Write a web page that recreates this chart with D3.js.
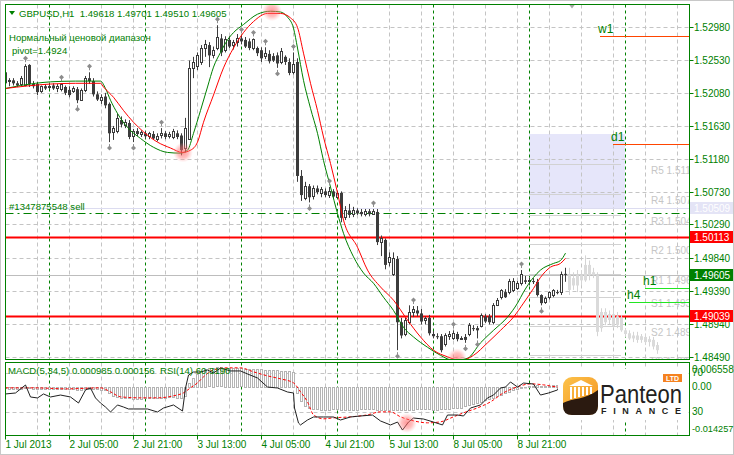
<!DOCTYPE html>
<html><head><meta charset="utf-8">
<script src="https://cdn.jsdelivr.net/npm/d3@7"></script>
<style>
body{margin:0;background:#fff}
svg{display:block}
text{font-family:"Liberation Sans",Arial,sans-serif}
</style></head>
<body><svg width="734" height="455"></svg>
<script>
// ---------- DATA ----------
const symbolText = "GBPUSD,H1  1.49618 1.49701 1.49510 1.49605";
const priceTicks = [1.52980,1.52530,1.52080,1.51630,1.51180,1.50730,1.50290,1.49840,1.49390,1.48940,1.48490];
const timeLabels = ["1 Jul 2013","2 Jul 05:00","2 Jul 21:00","3 Jul 13:00","4 Jul 05:00","4 Jul 21:00","5 Jul 13:00","8 Jul 05:00","8 Jul 21:00"];
const timeIdx = [0,16,32,48,64,80,96,112,128];
const daySepIdx = [11,35,59,83,107,131,155];

const opens = [1.5236,1.5223,1.5225,1.5221,1.5220,1.5218,1.5246,1.5220,1.5220,1.5210,
1.5217,1.5216,1.5218,1.5214,1.5213,1.5216,1.5212,1.5210,1.5213,1.5199,
1.5212,1.5228,1.5224,1.5206,1.5199,1.5203,1.5193,1.5155,1.5156,1.5171,
1.5165,1.5167,1.5149,1.5156,1.5152,1.5153,1.5149,1.5152,1.5146,1.5150,
1.5153,1.5149,1.5148,1.5153,1.5150,1.5133,1.5146,1.5242,1.5244,1.5250,
1.5269,1.5273,1.5259,1.5269,1.5282,1.5266,1.5280,1.5273,1.5276,1.5282,
1.5280,1.5278,1.5269,1.5269,1.5266,1.5258,1.5261,1.5258,1.5259,1.5250,
1.5257,1.5250,1.5236,1.5250,1.5095,1.5065,1.5081,1.5067,1.5078,1.5072,
1.5074,1.5069,1.5074,1.5067,1.5072,1.5038,1.5048,1.5043,1.5048,1.5046,
1.5043,1.5047,1.5043,1.5046,1.5005,1.5008,1.4978,1.4961,1.4982,1.4896,
1.4880,1.4896,1.4910,1.4912,1.4908,1.4899,1.4902,1.4880,1.4877,1.4877,
1.4866,1.4877,1.4874,1.4880,1.4874,1.4876,1.4880,1.4888,1.4888,1.4891,
1.4904,1.4904,1.4896,1.4919,1.4930,1.4937,1.4937,1.4940,1.4942,1.4949,
1.4953,1.4951,1.4952,1.4951,1.4933,1.4923,1.4930,1.4933,1.4937,1.4936,
1.49618];
const highs = [1.5239,1.5228,1.5228,1.5224,1.5231,1.5247,1.5247,1.5224,1.5223,1.5218,
1.5220,1.5221,1.5221,1.5220,1.5221,1.5218,1.5217,1.5217,1.5216,1.5214,
1.5231,1.5236,1.5228,1.5210,1.5206,1.5208,1.5195,1.5163,1.5180,1.5176,
1.5172,1.5171,1.5159,1.5160,1.5157,1.5156,1.5155,1.5156,1.5153,1.5160,
1.5156,1.5155,1.5159,1.5157,1.5153,1.5174,1.5252,1.5257,1.5263,1.5273,
1.5280,1.5277,1.5271,1.5300,1.5288,1.5285,1.5285,1.5280,1.5288,1.5286,
1.5284,1.5282,1.5282,1.5271,1.5270,1.5270,1.5266,1.5262,1.5263,1.5269,
1.5259,1.5255,1.5263,1.5255,1.5103,1.5087,1.5084,1.5082,1.5082,1.5080,
1.5078,1.5080,1.5077,1.5074,1.5074,1.5054,1.5057,1.5053,1.5051,1.5050,
1.5050,1.5050,1.5050,1.5050,1.5014,1.5010,1.4991,1.4991,1.4986,1.4902,
1.4902,1.4919,1.4918,1.4918,1.4914,1.4904,1.4906,1.4884,1.4881,1.4880,
1.4881,1.4884,1.4885,1.4883,1.4877,1.4880,1.4895,1.4892,1.4891,1.4908,
1.4907,1.4907,1.4922,1.4929,1.4941,1.4941,1.4955,1.4956,1.4952,1.4967,
1.4959,1.4957,1.4956,1.4955,1.4934,1.4931,1.4938,1.4941,1.4940,1.4965,
1.49701];
const lows = [1.5218,1.5217,1.5218,1.5216,1.5217,1.5217,1.5216,1.5214,1.5205,1.5208,
1.5212,1.5213,1.5212,1.5209,1.5210,1.5205,1.5202,1.5208,1.5194,1.5197,
1.5209,1.5220,1.5203,1.5197,1.5193,1.5187,1.5141,1.5144,1.5153,1.5161,
1.5160,1.5145,1.5141,1.5149,1.5148,1.5146,1.5145,1.5144,1.5142,1.5146,
1.5145,1.5146,1.5145,1.5145,1.5123,1.5127,1.5144,1.5228,1.5239,1.5246,
1.5257,1.5243,1.5255,1.5266,1.5258,1.5263,1.5269,1.5267,1.5271,1.5274,
1.5269,1.5266,1.5266,1.5258,1.5250,1.5254,1.5248,1.5250,1.5242,1.5247,
1.5246,1.5232,1.5233,1.5087,1.5061,1.5062,1.5059,1.5063,1.5070,1.5066,
1.5066,1.5065,1.5065,1.5065,1.5032,1.5035,1.5038,1.5039,1.5042,1.5040,
1.5040,1.5040,1.5042,1.5001,1.4986,1.4968,1.4972,1.4959,1.4858,1.4874,
1.4877,1.4893,1.4903,1.4904,1.4893,1.4893,1.4878,1.4874,1.4873,1.4855,
1.4863,1.4872,1.4872,1.4870,1.4872,1.4868,1.4877,1.4884,1.4874,1.4889,
1.4895,1.4893,1.4893,1.4918,1.4927,1.4929,1.4934,1.4937,1.4940,1.4946,
1.4948,1.4946,1.4948,1.4931,1.4919,1.4921,1.4927,1.4930,1.4934,1.4933,
1.49510];
const closes = [1.5221,1.5225,1.5221,1.5218,1.5228,1.5244,1.5220,1.5217,1.5209,1.5217,
1.5214,1.5218,1.5214,1.5217,1.5220,1.5208,1.5205,1.5214,1.5198,1.5212,
1.5228,1.5224,1.5206,1.5199,1.5203,1.5191,1.5153,1.5160,1.5174,1.5165,
1.5169,1.5148,1.5156,1.5152,1.5155,1.5149,1.5153,1.5146,1.5150,1.5153,
1.5148,1.5152,1.5156,1.5148,1.5130,1.5160,1.5242,1.5250,1.5259,1.5269,
1.5274,1.5259,1.5266,1.5284,1.5263,1.5281,1.5271,1.5277,1.5282,1.5278,
1.5271,1.5269,1.5281,1.5262,1.5255,1.5262,1.5251,1.5252,1.5248,1.5265,
1.5250,1.5235,1.5247,1.5095,1.5069,1.5082,1.5066,1.5078,1.5073,1.5077,
1.5069,1.5074,1.5067,1.5072,1.5038,1.5048,1.5042,1.5048,1.5044,1.5043,
1.5047,1.5043,1.5047,1.5005,1.5010,1.4974,1.4985,1.4983,1.4896,1.4878,
1.4899,1.4910,1.4914,1.4908,1.4897,1.4902,1.4881,1.4877,1.4876,1.4858,
1.4878,1.4880,1.4881,1.4873,1.4874,1.4872,1.4892,1.4887,1.4885,1.4906,
1.4897,1.4896,1.4919,1.4926,1.4940,1.4930,1.4952,1.4952,1.4949,1.4961,
1.4951,1.4953,1.4951,1.4933,1.4922,1.4929,1.4937,1.4940,1.4936,1.4961,
1.49605];

// projected (ghost) candles, starting at bar 141
const ghostStart = 141;
const ghostOpen  = [1.4940,1.4956,1.4946,1.4960,1.4953,1.4974,1.4960,1.4960,1.4888,1.4910,1.4899,1.4907,1.4892,1.4902,1.4885,1.4881,1.4874,1.4878,1.4872,1.4876,1.4869,1.4872,1.4865];
const ghostHigh  = [1.4970,1.4964,1.4967,1.4967,1.4987,1.4980,1.4970,1.4964,1.4915,1.4915,1.4912,1.4915,1.4910,1.4906,1.4888,1.4885,1.4883,1.4883,1.4880,1.4880,1.4877,1.4876,1.4869];
const ghostLow   = [1.4933,1.4940,1.4937,1.4946,1.4951,1.4953,1.4956,1.4877,1.4883,1.4892,1.4893,1.4888,1.4888,1.4883,1.4876,1.4872,1.4869,1.4868,1.4868,1.4865,1.4863,1.4859,1.4853];
const ghostClose = [1.4960,1.4946,1.4960,1.4953,1.4974,1.4960,1.4964,1.4883,1.4910,1.4896,1.4907,1.4891,1.4904,1.4885,1.4880,1.4874,1.4878,1.4872,1.4877,1.4869,1.4873,1.4863,1.4858];

// smoothed moving averages (bar index, price)
const greenIdx = [0,3.75,7.5,11.25,17.5,23.75,25,26.25,28,30.5,33.75,37,40.5,43.75,45.5,47,48.75,50.5,52,53.75,55.5,57,59.5,63,66.25,68.75,70.5,72,73,74.5,76.25,78,79.5,81.25,83,84.5,87,89.5,92,94.5,97,99.5,102,105.5,108.75,112,115.5,118.75,122,125.5,128,129.5,132,133.75,137,138.75,140];
const greenVal = [1.5214,1.5218,1.5221,1.5223,1.5224,1.5224,1.5214,1.5198,1.5180,1.5161,1.5146,1.5134,1.5127,1.5126,1.5130,1.5153,1.5184,1.5216,1.5243,1.5263,1.5280,1.5290,1.5301,1.5315,1.5319,1.5318,1.5311,1.5296,1.5269,1.5225,1.5187,1.5153,1.5116,1.5080,1.5044,1.5017,1.4985,1.4963,1.4949,1.4930,1.4912,1.4889,1.4876,1.4862,1.4851,1.4844,1.4847,1.4868,1.4885,1.4903,1.4922,1.4937,1.4957,1.4967,1.4976,1.4980,1.4990];
const redIdx = [0,11.25,17.5,23.75,24.5,27,29.5,32,34.5,38,41.25,44.25,46.25,48,49.5,52,54.5,57,59.5,62,65.5,68.75,71.25,73,74.5,76.25,78,79.5,81.25,83,84.5,88,90.5,93.75,97,100.5,103.75,107,110.5,113.75,117,120.5,123.75,127,129.5,132,133.75,136.25,138.75,140];
const redVal = [1.5214,1.5220,1.5221,1.5221,1.5216,1.5202,1.5184,1.5168,1.5155,1.5141,1.5133,1.5127,1.5130,1.5141,1.5168,1.5205,1.5242,1.5269,1.5290,1.5305,1.5316,1.5316,1.5310,1.5297,1.5262,1.5221,1.5184,1.5148,1.5112,1.5072,1.5035,1.4998,1.4967,1.4944,1.4926,1.4899,1.4876,1.4858,1.4849,1.4844,1.4851,1.4868,1.4885,1.4903,1.4922,1.4942,1.4957,1.4971,1.4976,1.4983];

// fractals (bar indices)
const fractalUp = [5,14,21,39,53,59,62,65,72,81,92,102,112,129];
const fractalDown = [18,26,32,68,76,98,115,118,134];

// highlighted turning points
const markIdx = [44.5,66.75,113];
const markPrice = [1.5127,1.5319,1.4847];
const rsiMarkIdx = 100.5, rsiMarkVal = 18.7;

// horizontal levels
const redLevels = [1.50113,1.49039];
const bidPrice = 1.49605;
const orderPrice = 1.5044;
const orderText = "#1347875548 sell";
const rangeTop = 1.5152, rangeBottom = 1.50509;
const pivotNames = ["R5","R4","R3","R2","R1","S1","S2","S3"];
const pivotVals = [1.5111,1.5070,1.5042,1.5002,1.4962,1.4931,1.4891,1.4852];
const tfNames = ["w1","d1","h1","h4"];
const tfVals = [1.5285,1.5138,1.4943,1.4924];
const tfStart = [148.75,152,160,156];
const tfColors = ["#ff4500","#ff4500","#22e622","#22e622"];

// indicator window: MACD(5,34,5) histogram per bar, signal and RSI(14) points
const macdHist = [-0.0004,-0.0005,-0.0005,-0.0006,-0.0005,-0.0003,-0.0004,-0.0005,-0.0006,-0.0006,-0.0007,-0.0006,-0.0006,-0.0007,-0.0006,-0.0007,-0.0007,-0.0008,-0.0009,-0.0009,-0.0007,-0.0006,-0.0007,-0.0008,-0.0009,-0.0010,-0.0020,
-0.0030,-0.0033,-0.0035,-0.0036,-0.0037,-0.0038,-0.0038,-0.0038,-0.0037,-0.0037,-0.0036,-0.0036,-0.0035,-0.0035,-0.0034,-0.0034,-0.0035,-0.0036,-0.0030,
0.0013,0.0030,0.0043,0.0052,0.0058,0.0061,0.0062,0.0064,0.0064,0.0063,0.0063,0.0062,0.0062,0.0061,0.0060,0.0060,0.0059,0.0058,0.0058,0.0057,0.0057,0.0056,0.0055,0.0054,0.0053,0.0052,0.0050,
-0.0020,-0.0046,-0.0062,-0.0070,-0.0073,-0.0074,-0.0075,-0.0075,-0.0075,-0.0074,-0.0074,-0.0075,-0.0076,-0.0076,-0.0075,-0.0075,-0.0074,-0.0074,-0.0073,-0.0074,-0.0075,-0.0076,-0.0076,-0.0076,-0.0075,-0.0077,-0.0077,-0.0076,-0.0075,-0.0075,-0.0074,-0.0074,-0.0074,-0.0074,-0.0075,-0.0075,-0.0074,-0.0073,-0.0072,-0.0071,-0.0070,-0.0068,
-0.0062,-0.0058,-0.0055,-0.0052,-0.0048,-0.0044,-0.0040,-0.0035,-0.0030,-0.0025,-0.0020,-0.0015,-0.0011,-0.0007,-0.0004,-0.0001,0.0002,0.0004,0.0005,0.0004,0.0003,0.0004,0.0006,0.0007,0.0008,0.00099];
const sigIdx = [0,7,15.5,23.75,26.25,28.75,33.75,38,42,44.5,46.25,48,49.5,52,55.5,58.75,62,65.5,68.75,72,73.75,75.5,77,79.5,82,86.25,90.5,93.75,96.25,98.75,102,105.5,108.75,112,114.5,118,121.25,124.5,128,131.25,134.5,138,139.5];
const sigVal = [-0.00033,-0.00033,-0.00066,-0.00033,-0.00165,-0.0033,-0.00363,-0.00363,-0.00297,-0.00198,-0.00033,0.00132,0.0033,0.00562,0.00628,0.00628,0.00496,0.00363,0.00264,0.00132,-0.00165,-0.00496,-0.00925,-0.01057,-0.01024,-0.00991,-0.00925,-0.00826,-0.00826,-0.00991,-0.01123,-0.01189,-0.01156,-0.00991,-0.00859,-0.00694,-0.00496,-0.00198,0,0.00099,0.00066,0,0.00066];
const rsiIdx = [0,2.5,5,6.25,8,9.5,11.25,13.75,16.25,18.25,20,21.25,22.5,23.75,25,26.25,28,29.5,30.75,32,35.5,38,39.5,42,44.25,45,45.75,47,48.75,50.5,52,53.75,56.25,58.75,60.5,63,65.5,68,70.5,72,72.25,73.25,73.75,75.5,77,79.5,82,83.75,86.25,88.75,91.75,93.75,96.25,98,99.25,100.75,102,104.5,107,109.25,110.5,113,114.5,116.25,118.75,120.5,122,123.75,125,126.25,128,129.5,132,133.75,135.75,138,138.75,139.5,140];
const rsiVal = [48.5,49.5,57.7,45.4,44.4,48.5,45.4,47.4,45.4,39.2,52.6,54.6,44.4,39.2,35.1,30.0,37.2,35.1,33.1,33.1,33.1,30.0,34.1,37.2,31.0,54.6,67.9,71.0,71.0,73.1,70.0,75.1,72.1,72.1,69.0,64.9,55.6,54.6,50.5,49.5,34.1,18.7,16.7,21.8,24.9,24.9,24.9,21.8,24.9,25.9,26.9,20.8,16.7,19.7,11.5,19.7,23.8,22.8,19.7,16.7,26.9,26.9,25.9,34.1,37.2,44.4,47.4,54.6,55.6,60.8,55.6,59.7,58.7,47.4,49.5,52.6,59.7,60.8,60.3];
const subLegend = "MACD(5,34,5) 0.000985 0.000156  RSI(14) 60.3190";
const macdMax = 0.006558, macdMin = -0.014257;

// ---------- SCALES ----------
const svg = d3.select("svg");
const L = 5.5, R = 689.5, MT = 4.5, MB = 359.5, ST = 362.5, SB = 435.5;
const x = d3.scaleLinear().domain([0,171]).range([5,689]);
const y = d3.scaleLinear().domain([1.48490,1.52980]).range([356.8,26.7]);
const yM = d3.scaleLinear().domain([macdMin,macdMax]).range([430,367]);
const yR = d3.scaleLinear().domain([30,70]).range([412,373]);
const GREEN = "#008000", GRID = "#c4c4c4", CANDLE = "#3c3c3c";

const defs = svg.append("defs");
defs.append("clipPath").attr("id","cm").append("rect").attr("x",L).attr("y",MT).attr("width",R-L).attr("height",MB-MT);
defs.append("clipPath").attr("id","cs").append("rect").attr("x",L).attr("y",ST).attr("width",R-L).attr("height",SB-ST);
const rg = defs.append("radialGradient").attr("id","pk");
rg.append("stop").attr("offset","0%").attr("stop-color","#ff6060").attr("stop-opacity",0.65);
rg.append("stop").attr("offset","55%").attr("stop-color","#ff7878").attr("stop-opacity",0.45);
rg.append("stop").attr("offset","100%").attr("stop-color","#ffa0a0").attr("stop-opacity",0);
const lg = defs.append("linearGradient").attr("id","og").attr("x1","0").attr("y1","0").attr("x2","1").attr("y2","1");
lg.append("stop").attr("offset","0%").attr("stop-color","#fcc24a");
lg.append("stop").attr("offset","100%").attr("stop-color","#f39220");

svg.append("rect").attr("x",0.5).attr("y",0.5).attr("width",733).attr("height",454).attr("fill","#fff").attr("stroke","#c8c8c8");

const gm = svg.append("g").attr("clip-path","url(#cm)");
const gs = svg.append("g").attr("clip-path","url(#cs)");

// daily range rectangle
gm.append("rect").attr("x",x(131)).attr("y",y(rangeTop)).attr("width",x(155)-x(131))
  .attr("height",y(rangeBottom)-y(rangeTop)).attr("fill","#e6e6fa");

// grid
const gridIdx = d3.range(0,172,8);
[gm,gs].forEach((g,k)=>{
  const y0 = k===0?MT:ST, y1 = k===0?MB:SB;
  g.selectAll(null).data(gridIdx).join("line")
    .attr("x1",d=>Math.round(x(d))+0.5).attr("x2",d=>Math.round(x(d))+0.5).attr("y1",y0).attr("y2",y1)
    .attr("stroke",GRID).attr("stroke-dasharray","4,3");
});
gm.selectAll(null).data(priceTicks).join("line")
  .attr("x1",L).attr("x2",R).attr("y1",d=>Math.round(y(d))+0.5).attr("y2",d=>Math.round(y(d))+0.5)
  .attr("stroke",GRID).attr("stroke-dasharray","4,3");
gs.selectAll(null).data([70,30]).join("line")
  .attr("x1",L).attr("x2",R).attr("y1",d=>Math.round(yR(d))+0.5).attr("y2",d=>Math.round(yR(d))+0.5)
  .attr("stroke",GRID).attr("stroke-dasharray","4,3");
[gm,gs].forEach((g,k)=>{
  const y0 = k===0?MT:ST, y1 = k===0?MB:SB;
  g.selectAll(null).data(daySepIdx).join("line")
    .attr("x1",d=>Math.round(x(d))+0.5).attr("x2",d=>Math.round(x(d))+0.5).attr("y1",y0).attr("y2",y1)
    .attr("stroke",GREEN).attr("stroke-dasharray","3,3");
});

// pivot lines and labels
gm.selectAll(null).data(pivotVals).join("line")
  .attr("x1",x(131)).attr("x2",x(154)).attr("y1",d=>Math.round(y(d))+0.5).attr("y2",d=>Math.round(y(d))+0.5)
  .attr("stroke","#d2d2d2");
gm.selectAll(null).data(pivotVals).join("text")
  .attr("x",651).attr("y",d=>y(d)+10).attr("font-size",10).attr("fill","#c6c6c6")
  .text((d,i)=>pivotNames[i]+" "+d.toFixed(4));

// faint line at range bottom, bid line
gm.append("line").attr("x1",L).attr("x2",R).attr("y1",Math.round(y(rangeBottom))+0.5).attr("y2",Math.round(y(rangeBottom))+0.5).attr("stroke","#dcdcf0");
gm.append("line").attr("x1",L).attr("x2",R).attr("y1",Math.round(y(bidPrice))+0.5).attr("y2",Math.round(y(bidPrice))+0.5).attr("stroke","#bdbdbd");
// order line
gm.append("line").attr("x1",L).attr("x2",R).attr("y1",Math.round(y(orderPrice))+0.5).attr("y2",Math.round(y(orderPrice))+0.5)
  .attr("stroke",GREEN).attr("stroke-dasharray","8,4,2,4");
// red levels
gm.selectAll(null).data(redLevels).join("line")
  .attr("x1",L).attr("x2",R).attr("y1",d=>y(d)).attr("y2",d=>y(d)).attr("stroke","#ff0000").attr("stroke-width",2);

// ghost candles
const ghosts = ghostOpen.map((o,k)=>({i:ghostStart+k,o,h:ghostHigh[k],l:ghostLow[k],c:ghostClose[k]}));
const gg = gm.append("g");
ghosts.forEach(d=>{
  const cx = Math.round(x(d.i));
  gg.append("line").attr("x1",cx+0.5).attr("x2",cx+0.5).attr("y1",y(d.h)).attr("y2",y(d.l)).attr("stroke","#d4d4d4");
  const t = Math.min(y(d.o),y(d.c)), b = Math.max(y(d.o),y(d.c));
  gg.append("rect").attr("x",cx-1).attr("y",t).attr("width",3).attr("height",Math.max(1,b-t)).attr("fill","#dadada");
});

// candles
const bars = opens.map((o,i)=>({i,o,h:highs[i],l:lows[i],c:closes[i]}));
const gc = gm.append("g");
bars.forEach(d=>{
  const cx = Math.round(x(d.i));
  gc.append("line").attr("x1",cx+0.5).attr("x2",cx+0.5).attr("y1",y(d.h)).attr("y2",y(d.l)).attr("stroke",CANDLE);
  const t = Math.min(y(d.o),y(d.c)), b = Math.max(y(d.o),y(d.c));
  if (d.c >= d.o) {
    gc.append("rect").attr("x",cx-0.5).attr("y",Math.round(t)+0.5).attr("width",2).attr("height",Math.max(1,Math.round(b-t)))
      .attr("fill","#fff").attr("stroke",CANDLE);
  } else {
    gc.append("rect").attr("x",cx-1).attr("y",t).attr("width",3).attr("height",Math.max(1,b-t)).attr("fill",CANDLE);
  }
});

// moving averages
const ln = d3.line().curve(d3.curveMonotoneX);
gm.append("path").attr("d",ln(greenIdx.map((d,i)=>[x(d)+0.5,y(greenVal[i])]))).attr("fill","none").attr("stroke","#008000");
gm.append("path").attr("d",ln(redIdx.map((d,i)=>[x(d)+0.5,y(redVal[i])]))).attr("fill","none").attr("stroke","#ff0000");

// fractals
function diamond(cx,cy){return `M${cx},${cy-2.5}L${cx+2.5},${cy}L${cx},${cy+2.5}L${cx-2.5},${cy}Z`;}
fractalUp.forEach(i=>{
  const cx = Math.round(x(i))+0.5, cy = y(highs[i])-6;
  gm.append("path").attr("d",diamond(cx,cy)).attr("fill","#8c8c8c");
  gm.append("line").attr("x1",cx).attr("x2",cx).attr("y1",cy).attr("y2",cy+4).attr("stroke","#8c8c8c");
});
fractalDown.forEach(i=>{
  const cx = Math.round(x(i))+0.5, cy = y(lows[i])+6;
  gm.append("path").attr("d",diamond(cx,cy)).attr("fill","#8c8c8c");
  gm.append("line").attr("x1",cx).attr("x2",cx).attr("y1",cy-4).attr("y2",cy).attr("stroke","#8c8c8c");
});

// highlighted turning points
gm.selectAll(null).data(markIdx).join("circle")
  .attr("cx",d=>x(d)).attr("cy",(d,i)=>y(markPrice[i])).attr("r",10).attr("fill","url(#pk)");

// timeframe level lines
tfVals.forEach((v,k)=>{
  const yy = Math.round(y(v))+0.5;
  gm.append("line").attr("x1",x(tfStart[k])).attr("x2",R).attr("y1",yy).attr("y2",yy).attr("stroke",tfColors[k]).attr("stroke-width",1.2);
  gm.append("text").attr("x",x(tfStart[k])-2).attr("y",yy-4).attr("font-size",12).attr("fill",GREEN).text(tfNames[k]);
});

// texts in main window
svg.append("path").attr("d","M9,11L15,11L12,15Z").attr("fill",GREEN);
svg.append("text").attr("x",19).attr("y",16.5).attr("font-size",9.6).attr("fill",GREEN).attr("xml:space","preserve").text(symbolText);
svg.append("text").attr("x",9).attr("y",40.5).attr("font-size",9.6).attr("fill",GREEN).text("Нормальный ценовой диапазон");
svg.append("text").attr("x",12).attr("y",53.5).attr("font-size",9.6).attr("fill",GREEN).text("pivot=1.4924");
svg.append("text").attr("x",9).attr("y",209.5).attr("font-size",9.6).attr("fill",GREEN).text(orderText);
svg.append("path").attr("d","M569,4.5L575,4.5L572,8.5Z").attr("fill","#a8a8a8");

// ---------- INDICATOR WINDOW ----------
gs.selectAll(null).data(macdHist).join("rect")
  .attr("x",(d,i)=>Math.round(x(i))-0.5).attr("width",2)
  .attr("y",d=>Math.round(Math.min(yM(d),yM(0)))+0.5).attr("height",d=>Math.max(0.5,Math.round(Math.abs(yM(d)-yM(0)))))
  .attr("fill","#fff").attr("stroke","#b4b4b4");
gs.append("path").attr("d",ln(sigIdx.map((d,i)=>[x(d)+0.5,yM(sigVal[i])]))).attr("fill","none")
  .attr("stroke","#ff0000").attr("stroke-dasharray","3,2");
gs.append("path").attr("d",d3.line()(rsiIdx.map((d,i)=>[x(d)+0.5,yR(rsiVal[i])]))).attr("fill","none")
  .attr("stroke","#202020");
gs.append("circle").attr("cx",x(rsiMarkIdx)).attr("cy",yR(rsiMarkVal)).attr("r",10).attr("fill","url(#pk)");
svg.append("text").attr("x",8).attr("y",374).attr("font-size",9.6).attr("fill",GREEN).attr("xml:space","preserve").text(subLegend);

// logo
const lgG = svg.append("g");
lgG.append("rect").attr("x",558).attr("y",369).attr("width",130).attr("height",51).attr("fill","#fff");
lgG.append("rect").attr("x",563).attr("y",377).attr("width",35).attr("height",38).attr("rx",9).attr("fill","url(#og)");
lgG.append("path").attr("d","M563,403 C572,398 585,400 598,390 L598,406 Q598,415 589,415 L572,415 Q563,415 563,406 Z").attr("fill","#2b1a10");
lgG.append("path").attr("d","M569,386 L581,380 L593,386 Z").attr("fill","#fff");
d3.range(6).forEach(k=>lgG.append("rect").attr("x",570+k*4).attr("y",387).attr("width",2).attr("height",12-k).attr("fill","#fff"));
lgG.append("text").attr("x",600).attr("y",403).attr("font-family","Lato, sans-serif").attr("font-size",25)
  .attr("fill","#231f20").attr("textLength",82).attr("lengthAdjust","spacingAndGlyphs").text("Panteon");
lgG.append("text").attr("x",601).attr("y",414).attr("font-family","Lato, sans-serif").attr("font-size",9).attr("font-weight","bold")
  .attr("fill","#231f20").attr("textLength",80).attr("lengthAdjust","spacing").text("FINANCE");
lgG.append("rect").attr("x",663).attr("y",374).attr("width",19).attr("height",8).attr("fill","#f58220");
lgG.append("text").attr("x",672.5).attr("y",380.5).attr("font-size",7).attr("font-weight","bold").attr("fill","#fff").attr("text-anchor","middle").text("LTD");

// ---------- FRAMES & AXES ----------
svg.append("rect").attr("x",L).attr("y",MT).attr("width",R-L).attr("height",MB-MT).attr("fill","none").attr("stroke",GREEN);
svg.append("rect").attr("x",L).attr("y",ST).attr("width",R-L).attr("height",SB-ST).attr("fill","none").attr("stroke",GREEN);

priceTicks.forEach(p=>{
  const yy = Math.round(y(p))+0.5;
  svg.append("line").attr("x1",R).attr("x2",R+4).attr("y1",yy).attr("y2",yy).attr("stroke",GREEN);
  svg.append("text").attr("x",694).attr("y",yy+3.5).attr("font-size",10).attr("fill",GREEN).text(p.toFixed(5));
});
function priceBox(p,bg,fg){
  const yy = y(p);
  svg.append("rect").attr("x",690).attr("y",Math.round(yy)-6).attr("width",43).attr("height",12).attr("fill",bg);
  svg.append("text").attr("x",694).attr("y",Math.round(yy)+4).attr("font-size",10).attr("fill",fg).text(p.toFixed(5));
}
priceBox(rangeBottom,"#e4e4f6","#ffffff");
priceBox(redLevels[0],"#ff0000","#ffffff");
priceBox(redLevels[1],"#ff0000","#ffffff");
priceBox(bidPrice,"#008000","#ffffff");

// indicator axis labels
[[macdMax.toFixed(6),373,10],["70",376,10],["0.00",390,10],["30",415,10],[macdMin.toFixed(6),432,9.2]].forEach(([t,yy,fs])=>{
  svg.append("text").attr("x",692).attr("y",yy).attr("font-size",fs).attr("fill",GREEN).text(t);
});

// time axis
timeIdx.forEach((ti,k)=>{
  const xx = Math.round(x(ti))+0.5;
  svg.append("line").attr("x1",xx).attr("x2",xx).attr("y1",SB).attr("y2",SB+4).attr("stroke",GREEN);
  svg.append("text").attr("x",xx).attr("y",448).attr("font-size",10).attr("fill",GREEN).text(timeLabels[k]);
});
</script></body></html>
